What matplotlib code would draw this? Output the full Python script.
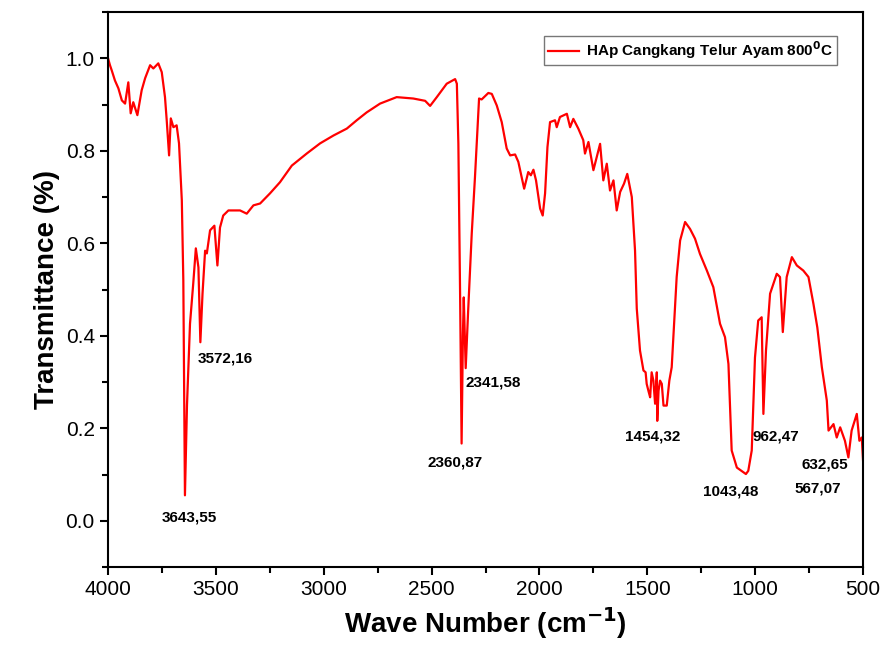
import matplotlib
matplotlib.use("Agg")
import matplotlib.pyplot as plt
from matplotlib.ticker import MultipleLocator

plt.rcParams["font.family"] = ["Liberation Sans", "DejaVu Sans"]

# spectrum (wave number in cm-1, transmittance)
wave = [4000, 3991, 3983, 3968, 3952, 3936, 3921, 3906, 3895, 3883, 3864, 3844,
        3828, 3805, 3790, 3767, 3751, 3736, 3728, 3717, 3709, 3697, 3682, 3671,
        3658, 3651, 3643.5, 3634, 3620, 3605, 3593, 3581, 3572, 3562, 3550, 3542,
        3527, 3507, 3493, 3481, 3466, 3442, 3419, 3388, 3357, 3326, 3295, 3249,
        3203, 3148, 3079, 3017, 2955, 2893, 2847, 2801, 2739, 2662, 2585, 2530,
        2507, 2476, 2430, 2391, 2383, 2376, 2368, 2361, 2355, 2351, 2342, 2331,
        2314, 2299, 2280, 2268, 2237, 2221, 2198, 2175, 2152, 2136, 2113, 2098,
        2071, 2052, 2040, 2028, 2016, 1997, 1985, 1974, 1963, 1951, 1928, 1920,
        1905, 1873, 1858, 1843, 1820, 1797, 1789, 1773, 1750, 1719, 1704, 1688,
        1673, 1657, 1642, 1626, 1608, 1593, 1572, 1557, 1549, 1534, 1518, 1508,
        1503, 1495, 1487, 1480, 1472, 1464, 1456, 1454, 1448, 1441, 1433, 1425,
        1410, 1398, 1387, 1364, 1348, 1325, 1302, 1279,
        1256, 1224, 1194, 1163, 1140, 1124, 1109, 1085, 1043, 1032, 1016, 1001,
        986, 970, 962, 950, 931, 900, 885, 872, 854, 830, 807, 777, 753, 730,
        712, 691, 668, 660, 637, 622, 606, 584, 568, 553, 529, 517, 506, 500]
trans = [1.000, 0.985, 0.974, 0.952, 0.935, 0.909, 0.902, 0.948, 0.881, 0.905, 0.877, 0.931,
         0.957, 0.985, 0.978, 0.989, 0.970, 0.916, 0.866, 0.790, 0.870, 0.851, 0.855, 0.816,
         0.693, 0.520, 0.055, 0.250, 0.426, 0.513, 0.589, 0.548, 0.386, 0.491, 0.584, 0.578,
         0.628, 0.638, 0.552, 0.634, 0.660, 0.671, 0.671, 0.671, 0.664, 0.682, 0.686, 0.708,
         0.732, 0.768, 0.794, 0.816, 0.833, 0.848, 0.866, 0.883, 0.902, 0.916, 0.913, 0.908,
         0.897, 0.916, 0.945, 0.955, 0.945, 0.816, 0.491, 0.167, 0.400, 0.483, 0.330, 0.450,
         0.621, 0.743, 0.913, 0.911, 0.925, 0.923, 0.898, 0.862, 0.805, 0.790, 0.792, 0.776,
         0.718, 0.754, 0.747, 0.759, 0.736, 0.675, 0.660, 0.708, 0.808, 0.862, 0.866, 0.851,
         0.873, 0.880, 0.851, 0.869, 0.848, 0.823, 0.794, 0.819, 0.758, 0.815, 0.736, 0.772,
         0.714, 0.736, 0.671, 0.711, 0.729, 0.750, 0.700, 0.584, 0.459, 0.368, 0.325, 0.321,
         0.296, 0.281, 0.267, 0.321, 0.303, 0.253, 0.321, 0.216, 0.281, 0.303, 0.296, 0.249,
         0.249, 0.303, 0.332, 0.527, 0.606, 0.646, 0.631, 0.610,
         0.577, 0.541, 0.505, 0.426, 0.397, 0.339, 0.152, 0.115, 0.101, 0.108, 0.152, 0.353,
         0.433, 0.440, 0.231, 0.368, 0.491, 0.534, 0.527, 0.408, 0.527, 0.570, 0.552, 0.541,
         0.527, 0.469, 0.418, 0.332, 0.260, 0.195, 0.209, 0.180, 0.202, 0.173, 0.137, 0.195,
         0.231, 0.173, 0.180, 0.130]

# peak labels: text, x, y (data units)
peak_labels = ["3643,55", "3572,16", "2360,87", "2341,58", "1454,32",
               "1043,48", "962,47", "632,65", "567,07"]
label_x = [3622, 3456, 2393, 2216, 1477, 1114, 904, 679, 708]
label_y = [0.007, 0.351, 0.125, 0.299, 0.182, 0.063, 0.182, 0.122, 0.070]

fig = plt.figure(figsize=(8.87, 6.61), dpi=100)
ax = fig.add_axes([0.1218, 0.1422, 0.8512, 0.8396])

ax.plot(wave, trans, color="red", lw=1.6, label="HAp Cangkang Telur Ayam 800$^{\\mathbf{0}}$C")

for t, x, y in zip(peak_labels, label_x, label_y):
    ax.text(x, y, t, ha="center", va="center", fontsize=11, fontweight="bold")

ax.set_xlim(4000, 500)
ax.set_ylim(-0.1, 1.1)
ax.xaxis.set_major_locator(MultipleLocator(500))
ax.xaxis.set_minor_locator(MultipleLocator(250))
ax.yaxis.set_major_locator(MultipleLocator(0.2))
ax.yaxis.set_minor_locator(MultipleLocator(0.1))
ax.tick_params(which="major", direction="out", length=6, width=1.5, labelsize=15)
ax.tick_params(which="minor", direction="out", length=4, width=1.5)
for s in ax.spines.values():
    s.set_linewidth(1.5)

ax.set_xlabel("Wave Number (cm$^{\\mathbf{-1}}$)", fontsize=20, fontweight="bold")
ax.set_ylabel("Transmittance (%)", fontsize=20, fontweight="bold")

leg = ax.legend(loc="upper right", bbox_to_anchor=(0.9656, 0.957), borderaxespad=0,
                prop={"weight": "bold", "size": 11}, fancybox=False, edgecolor="#555555",
                handlelength=2.0, borderpad=0.25, handletextpad=0.5)
leg.get_frame().set_linewidth(1.0)

fig.savefig("out.png", dpi=100)
